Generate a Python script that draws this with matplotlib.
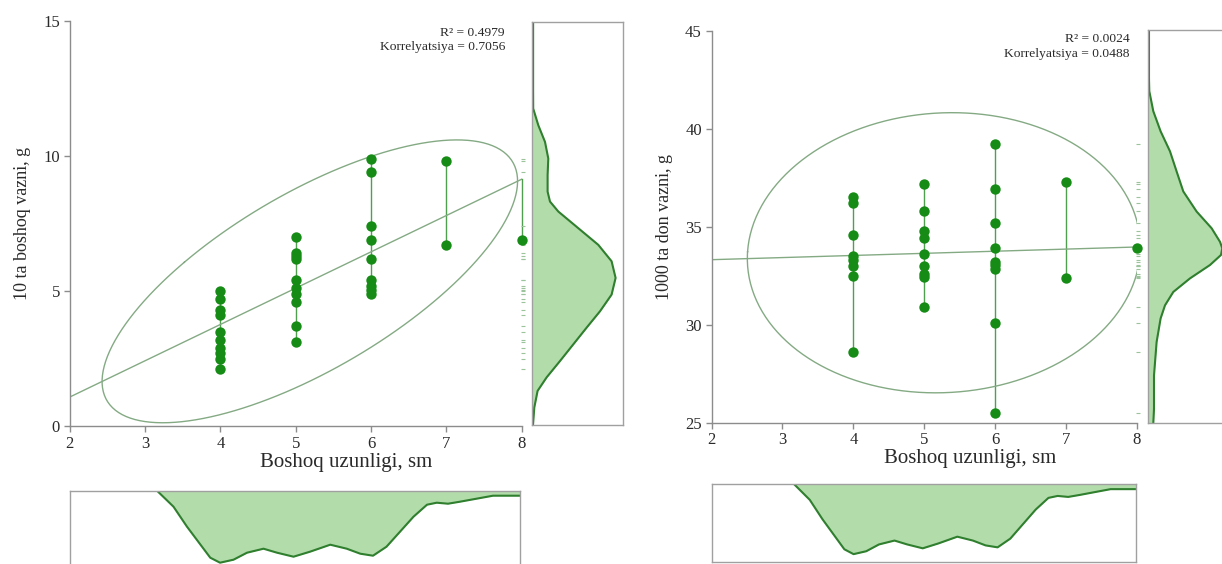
import numpy as np
import matplotlib
matplotlib.use("Agg")
import matplotlib.pyplot as plt

plt.rcParams['font.family'] = ['Liberation Serif', 'DejaVu Serif']

# ---------------- data ----------------
# left panel: spike length (sm) vs weight of 10 spikes (g)
x_len_1 = [4, 4, 4, 4, 4, 4, 4, 4, 4, 4,
           5, 5, 5, 5, 5, 5, 5, 5, 5, 5,
           6, 6, 6, 6, 6, 6, 6, 6, 6,
           7, 7,
           8]
y_w10 = [5.0, 4.7, 4.3, 4.1, 3.5, 3.2, 2.9, 2.7, 2.5, 2.1,
         7.0, 6.4, 6.3, 6.2, 5.4, 5.1, 4.9, 4.6, 3.7, 3.1,
         9.9, 9.4, 7.4, 6.9, 6.2, 5.4, 5.2, 5.05, 4.9,
         9.8, 6.7,
         6.9]

# right panel: spike length (sm) vs 1000-grain weight (g)
x_len_2 = [4, 4, 4, 4, 4, 4, 4, 4,
           5, 5, 5, 5, 5, 5, 5, 5, 5,
           6, 6, 6, 6, 6, 6, 6, 6, 6,
           7, 7,
           8]
y_w1000 = [36.5, 36.2, 34.6, 33.5, 33.3, 33.0, 32.5, 28.6,
           37.2, 35.8, 34.8, 34.4, 33.6, 33.0, 32.6, 32.45, 30.9,
           39.2, 36.9, 35.2, 33.9, 33.2, 33.05, 32.85, 30.1, 25.5,
           37.3, 32.4,
           33.9]

stats_1 = ["R\u00b2 = 0.4979", "Korrelyatsiya = 0.7056"]
stats_2 = ["R\u00b2 = 0.0024", "Korrelyatsiya = 0.0488"]

xlabel = "Boshoq uzunligi, sm"
ylabel_1 = "10 ta boshoq vazni, g"
ylabel_2 = "1000 ta don vazni, g"
xticks = [2, 3, 4, 5, 6, 7, 8]
yticks_1 = [0, 5, 10, 15]
yticks_2 = [25, 30, 35, 40, 45]

# marginal density of spike length (depth in px of 78 px box)
dens_x_pos = [3.16, 3.38, 3.56, 3.74, 3.87, 4.0, 4.18, 4.36, 4.58, 4.76, 4.98,
              5.2, 5.47, 5.69, 5.87, 6.04, 6.22, 6.4, 6.58, 6.76, 6.89, 7.04,
              7.2, 7.42, 7.64, 8.0]
dens_x_val = [0, 16, 36, 54, 67, 72, 69, 62, 58, 62, 66,
              61, 54, 58, 63, 65, 56, 41, 26, 14, 12, 13,
              11, 8, 5, 5]

# marginal density of weight of 10 spikes (width in px of 90 px box)
dens_y1_pos = [15, 12.5, 11.77, 11.15, 10.53, 9.91, 9.3, 8.68, 8.31, 7.94, 7.32,
               6.7, 6.09, 5.47, 4.85, 4.23, 3.62, 3.0, 2.38, 1.77, 1.27, 0.65, 0.0]
dens_y1_val = [0.8, 0.8, 0.9, 6, 12.7, 16, 15.3, 15.3, 17.7, 26, 46,
               66, 79.3, 83.3, 79.3, 67.7, 54.3, 41, 27.7, 14.3, 5.3, 2, 0.7]

# marginal density of 1000-grain weight (width in px of 90 px box)
dens_y2_pos = [45, 42.5, 41.89, 40.87, 39.85, 38.83, 37.81, 36.79, 35.77, 34.92,
               34.23, 33.9, 33.56, 33.05, 32.37, 31.68, 31.0, 30.33, 29.13, 27.43,
               25.73, 25.0]
dens_y2_val = [0.7, 0.7, 1, 5, 12.3, 21.7, 28.3, 35, 48.3, 63.3,
               71.7, 74, 72.7, 61.7, 41.7, 25, 16.7, 12.3, 8.3, 5.7,
               5.7, 5]

# ---------------- style ----------------
W, H = 1222, 564
PT_COL = '#168c16'
RANGE_COL = '#4f9f4f'
FIT_COL = '#84aa84'
FILL_COL = '#b3dcab'
DLINE_COL = '#2f7f2f'
SPINE_COL = '#8c8c8c'
BOX_COL = '#a0a0a0'
TXT_COL = '#2a2a2a'

fig = plt.figure(figsize=(W / 100, H / 100), dpi=100)


def add_ax(l, t, r, b):
    return fig.add_axes([l / W, 1 - b / H, (r - l) / W, (b - t) / H])


def scatter_panel(ax, xs, ys, ylim, yticks, ylabel, connect_last):
    xs = np.asarray(xs, float)
    ys = np.asarray(ys, float)
    ax.set_xlim(2, 8)
    ax.set_ylim(*ylim)
    # range lines
    for ux in np.unique(xs):
        sel = ys[xs == ux]
        if sel.size > 1:
            ax.plot([ux, ux], [sel.min(), sel.max()], color=RANGE_COL, lw=1.0, zorder=2)
    # regression
    slope, icpt = np.polyfit(xs, ys, 1)
    fx = np.array([2.0, 8.0])
    ax.plot(fx, icpt + slope * fx, color=FIT_COL, lw=1.0, zorder=2)
    if connect_last:
        xm = xs.max()
        yl = ys[xs == xm][0]
        ax.plot([xm, xm], [icpt + slope * xm, yl], color=RANGE_COL, lw=1.0, zorder=2, clip_on=False)
    # ellipse
    cov = np.cov(xs, ys)
    vals, vecs = np.linalg.eigh(cov)
    t = np.linspace(0, 2 * np.pi, 300)
    k = 2.6
    circ = np.vstack([np.cos(t), np.sin(t)]) * (k * np.sqrt(vals))[:, None]
    pts = vecs @ circ
    ax.plot(xs.mean() + pts[0], ys.mean() + pts[1], color=FIT_COL, lw=1.0, zorder=2)
    # points
    ax.scatter(xs, ys, s=56, color=PT_COL, zorder=4, clip_on=False, linewidths=0)
    # rug
    ax.plot(np.full(ys.size, 8.02), ys, linestyle='none', marker='_', markersize=3,
            color='#9cc49c', mew=0.8, clip_on=False, zorder=3)
    # axes style
    for s in ['top', 'right']:
        ax.spines[s].set_visible(False)
    for s in ['left', 'bottom']:
        ax.spines[s].set_color(SPINE_COL)
        ax.spines[s].set_linewidth(1.0)
    ax.set_xticks(xticks)
    ax.set_yticks(yticks)
    ax.tick_params(direction='out', length=4, width=1, color=SPINE_COL,
                   labelcolor=TXT_COL, labelsize=12, pad=3)
    ax.set_ylabel(ylabel, fontsize=13, color=TXT_COL, labelpad=8.5)


# ---------------- left ----------------
ax1 = add_ax(69.7, 21, 521.7, 426)
scatter_panel(ax1, x_len_1, y_w10, (0, 15), yticks_1, ylabel_1, True)
fig.text(505 / W, 1 - 33.5 / H, stats_1[0], ha='right', va='center', fontsize=9.7, color=TXT_COL)
fig.text(505 / W, 1 - 47 / H, stats_1[1], ha='right', va='center', fontsize=9.7, color=TXT_COL)
fig.text(346 / W, 1 - 463 / H, xlabel, ha='center', va='center', fontsize=15, color=TXT_COL)

m1 = add_ax(532.3, 21.7, 622.7, 425)
m1.fill_betweenx(dens_y1_pos, 0, dens_y1_val, color=FILL_COL, lw=0)
m1.plot(dens_y1_val, dens_y1_pos, color=DLINE_COL, lw=1.5)
m1.set_xlim(0, 90.4)
m1.set_ylim(0, 15)

b1 = add_ax(70, 490.7, 520, 568.7)
b1.fill_between(dens_x_pos, 0, dens_x_val, color=FILL_COL, lw=0)
b1.plot(dens_x_pos, dens_x_val, color=DLINE_COL, lw=1.5)
b1.set_xlim(2, 8)
b1.set_ylim(78, 0)

# ---------------- right ----------------
ax2 = add_ax(711.5, 30.7, 1137, 422.7)
scatter_panel(ax2, x_len_2, y_w1000, (25, 45), yticks_2, ylabel_2, False)
fig.text(1130 / W, 1 - 39 / H, stats_2[0], ha='right', va='center', fontsize=9.7, color=TXT_COL)
fig.text(1130 / W, 1 - 54 / H, stats_2[1], ha='right', va='center', fontsize=9.7, color=TXT_COL)
fig.text(970 / W, 1 - 459 / H, xlabel, ha='center', va='center', fontsize=15, color=TXT_COL)

m2 = add_ax(1148.3, 30, 1238.3, 423.3)
m2.fill_betweenx(dens_y2_pos, 0, dens_y2_val, color=FILL_COL, lw=0)
m2.plot(dens_y2_val, dens_y2_pos, color=DLINE_COL, lw=1.5)
m2.set_xlim(0, 90)
m2.set_ylim(25, 45)

b2 = add_ax(712.3, 484.3, 1136, 562.3)
b2.fill_between(dens_x_pos, 0, [v * 0.97 for v in dens_x_val], color=FILL_COL, lw=0)
b2.plot(dens_x_pos, [v * 0.97 for v in dens_x_val], color=DLINE_COL, lw=1.5)
b2.set_xlim(2, 8)
b2.set_ylim(78, 0)

for a in (m1, b1, m2, b2):
    a.set_xticks([])
    a.set_yticks([])
    for s in a.spines.values():
        s.set_color(BOX_COL)
        s.set_linewidth(1.0)

fig.savefig("out.png", dpi=100)
